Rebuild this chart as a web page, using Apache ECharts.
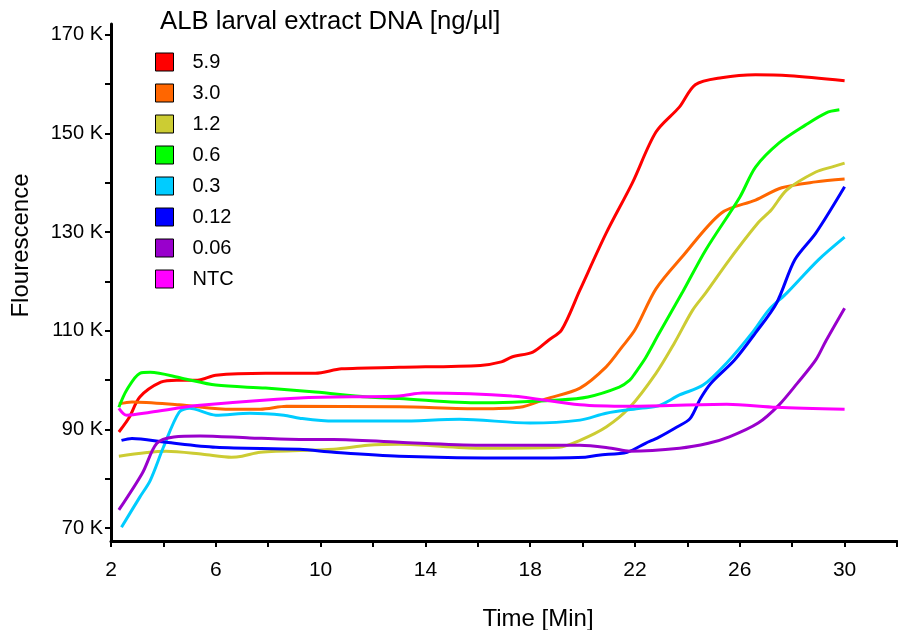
<!DOCTYPE html>
<html>
  <head>
    <meta charset="utf-8" />
    <title>ALB larval extract DNA</title>
    <script src="https://cdn.jsdelivr.net/npm/echarts@6/dist/echarts.min.js"></script>
  </head>
  <body style="margin: 0">
    <div id="main" style="width: 898px; height: 630px;"></div>
  </body>
  <script>
    // values in K, time in min
    var s59 = [[2.3,89.5],[2.7,92.5],[3.1,96.6],[3.9,99.6],[4.5,100],[5.3,100],[6.0,101],[7.9,101.4],[9.8,101.4],[10.8,102.3],[13,102.6],[16.1,103],[16.9,103.7],[17.3,104.7],[18.1,105.7],[18.7,108.1],[19.2,110.2],[19.9,118.3],[20.9,129.8],[21.9,140],[22.8,150.3],[23.7,155.4],[24.3,159.9],[25.3,161.3],[26.6,161.9],[27.9,161.7],[30,160.7]]
    var s30 = [[2.3,95.2],[2.8,95.6],[4.6,95],[6.6,94.1],[7.7,94.1],[8.7,94.7],[13,94.6],[16.1,94.2],[17.6,94.5],[18.6,96.2],[19.9,98.4],[20.9,102.7],[21.5,106.7],[22.0,110.2],[22.8,118.5],[23.8,125],[25.3,133.9],[26.6,136.5],[27.6,139],[28.9,140.2],[30,140.8]]
    var s12 = [[2.3,84.6],[4.1,85.6],[5.5,85],[6.6,84.4],[7.0,84.6],[7.7,85.4],[10.5,86],[11.8,86.8],[13,87],[16.1,86.2],[19.1,86.4],[19.9,87.8],[20.9,90.5],[21.8,94.5],[22.8,101.4],[23.5,107.5],[24.2,114.2],[24.7,117.7],[25.6,124.4],[26.7,131.9],[27.2,134.5],[27.8,138.6],[28.9,142.2],[29.5,143.2],[30,144]]
    var s06 = [[2.3,94.5],[2.6,98],[3.1,101.4],[3.5,101.6],[4.7,100.4],[6,99],[7.9,98.4],[9.8,97.6],[11.8,96.6],[13,96.3],[16.1,95.4],[19.1,96],[20.2,96.6],[21.4,98.6],[21.8,100],[22.0,101.4],[22.4,104.5],[22.9,109.3],[23.8,117.7],[24.7,126.4],[26.0,137.1],[26.6,143.2],[27.5,148.1],[28.5,151.7],[29.3,154.2],[29.8,154.8]]
    var s03 = [[2.4,70.2],[3.1,76.3],[3.5,79.7],[4.0,86.4],[4.6,93.5],[5.0,94.3],[6.0,92.9],[7.3,93.3],[8.6,92.9],[9.2,92.3],[10.5,91.7],[13,91.7],[15.3,92.1],[18,91.3],[19.9,91.9],[20.9,93.3],[22.2,94.3],[22.9,94.8],[23.7,97],[24.6,99],[25.5,103.5],[26.5,109.8],[27.1,114.2],[27.8,117.7],[29,124.4],[30,129]]
    var s012 = [[2.4,87.8],[2.8,88.2],[4.1,87.4],[6.0,86.4],[9.2,86],[10.5,85.4],[13,84.6],[17.3,84.2],[20.1,84.4],[20.6,84.8],[21.7,85.4],[22.4,87.2],[22.9,88.4],[23.6,90.5],[24.1,92.2],[24.5,96.3],[24.9,99.4],[25.8,104.1],[26.6,109.6],[27.4,115.6],[28.1,124.4],[28.9,129.8],[30,139.2]]
    var s006 = [[2.3,73.7],[3.2,81.2],[3.75,87.2],[4.4,88.5],[5.4,88.7],[7.3,88.3],[9.2,88],[10.5,88],[13,87.4],[16.1,86.8],[19.9,86.8],[21.1,86.2],[21.8,85.6],[23.7,86.2],[24.8,87.2],[25.6,88.5],[26.7,91.3],[27.5,95],[28.2,99.4],[28.9,104.1],[29.3,108.1],[30,114.6]]
    var ntc = [[2.3,94.3],[2.6,92.9],[3.5,93.5],[5.4,94.9],[9.2,96.4],[13,96.8],[13.9,97.4],[17.3,96.8],[19.9,95],[21.8,94.7],[25.5,95.1],[27.4,94.5],[30,94.1]]

    var names = ['5.9', '3.0', '1.2', '0.6', '0.3', '0.12', '0.06', 'NTC']
    var colors = ['#ff0000', '#ff6600', '#cccc33', '#00ff00', '#00ccff', '#0000ff', '#9900cc', '#ff00ff']
    var allData = [s59, s30, s12, s06, s03, s012, s006, ntc]

    var xLabels = [2, 6, 10, 14, 18, 22, 26, 30]
    var xTicks = [2, 4, 6, 8, 10, 12, 14, 16, 18, 20, 22, 24, 26, 28, 30, 32]
    var yLabels = [70, 90, 110, 130, 150, 170]
    var yTicks = [70, 80, 90, 100, 110, 120, 130, 140, 150, 160, 170]

    var font = 'Liberation Sans, Arial, sans-serif'

    var seriesData = []
    for (var i = 0; i < allData.length; i++) {
      seriesData.push({
        name: names[i],
        type: 'line',
        data: allData[i],
        smooth: 0.3,
        symbol: 'none',
        color: colors[i],
        lineStyle: { width: 3, color: colors[i] },
      })
    }

    var myChart = echarts.init(document.getElementById('main'))
    var option = {
      backgroundColor: '#fff',
      animation: false,
      title: {
        text: 'ALB larval extract DNA [ng/µl]',
        left: 155,
        top: 4,
        textStyle: { fontFamily: font, fontSize: 25.7, fontWeight: 'normal', color: '#000' },
      },
      legend: {
        data: names,
        orient: 'vertical',
        left: 155,
        top: 52,
        padding: 0,
        icon: 'rect',
        itemWidth: 18,
        itemHeight: 18,
        itemGap: 11,
        itemStyle: { borderColor: '#000', borderWidth: 1 },
        textStyle: { fontFamily: font, fontSize: 20, color: '#000', padding: [0, 0, 0, 14] },
      },
      grid: { left: 111, right: 1, top: 24, bottom: 89, outerBoundsMode: 'none' },
      xAxis: {
        type: 'value',
        min: 2,
        max: 32,
        interval: 2,
        name: 'Time [Min]',
        nameLocation: 'middle',
        nameGap: 66,
        nameTextStyle: { fontFamily: font, fontSize: 24, color: '#000', padding: [0, 0, 0, 68] },
        splitLine: { show: false },
        axisLine: { lineStyle: { color: '#000', width: 3 } },
        axisTick: { customValues: xTicks, length: 6, lineStyle: { color: '#000', width: 2 } },
        axisLabel: {
          customValues: xLabels,
          margin: 19,
          fontFamily: font,
          fontSize: 21,
          color: '#000',
        },
      },
      yAxis: {
        type: 'value',
        min: 67.4,
        max: 172.2,
        name: 'Flourescence',
        nameLocation: 'middle',
        nameGap: 78,
        nameTextStyle: { fontFamily: font, fontSize: 24, color: '#000', padding: [0, 0, 0, 74] },
        splitLine: { show: false },
        axisLine: { show: true, lineStyle: { color: '#000', width: 3 } },
        axisTick: { show: true, customValues: yTicks, length: 6, lineStyle: { color: '#000', width: 2 } },
        axisLabel: {
          customValues: yLabels,
          margin: 8,
          fontFamily: font,
          fontSize: 20,
          color: '#000',
          formatter: function (v) {
            return v + ' K'
          },
        },
      },
      series: seriesData,
    }
    option && myChart.setOption(option)
  </script>
</html>
